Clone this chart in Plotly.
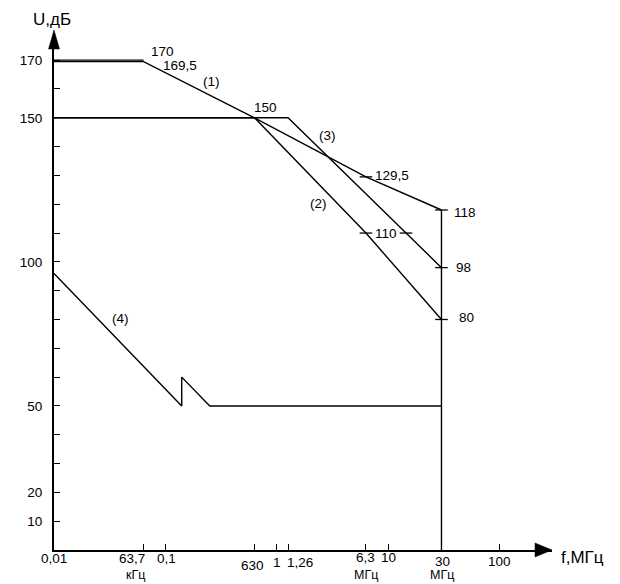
import numpy as np
import plotly.graph_objects as go

# ---- data (frequency in MHz, level in dB) ----
line1_f = [0.01, 0.0637, 0.63, 6.3, 30]
line1_u = [169.5, 169.5, 150, 129.5, 118]
line1_top_f = [0.01, 0.0637]
line1_top_u = [170, 170]
line2_f = [0.01, 0.63, 6.3, 30]
line2_u = [150, 150, 110, 80]
line3_f = [0.01, 1.26, 30]
line3_u = [150, 150, 98]
line4_f = [0.01, 0.14, 0.14, 0.25, 30]
line4_u = [96, 50, 60, 50, 50]
edge_f = [30, 30]
edge_u = [0, 118]

mark_f = [6.3, 6.3, 14.4, 30, 30, 30]
mark_u = [129.5, 110, 110, 118, 98, 80]

x_tick_vals = [0.01, 0.0637, 0.1, 0.63, 1, 1.26, 6.3, 10, 30, 100]
x_tick_text = ["0,01", "63,7", "0,1", "630", "1", "1,26", "6,3", "10", "30", "100"]
x_tick_unit = ["", "кГц", "", "", "", "", "МГц", "", "МГц", ""]
y_tick_vals = list(range(10, 180, 10))
y_tick_labelled = [170, 150, 100, 50, 20, 10]

FONT = "Liberation Sans, Arial, sans-serif"
BLACK = "#000000"
FS = 13.5

fig = go.Figure()

def add_line(f, u):
    fig.add_trace(go.Scatter(x=f, y=u, mode="lines",
                             line=dict(color=BLACK, width=1.4),
                             showlegend=False, hoverinfo="skip"))

for f, u in [(line1_top_f, line1_top_u), (line1_f, line1_u), (line2_f, line2_u),
             (line3_f, line3_u), (line4_f, line4_u), (edge_f, edge_u)]:
    add_line(f, u)

fig.add_trace(go.Scatter(x=mark_f, y=mark_u, mode="markers",
                         marker=dict(symbol="line-ew", size=9,
                                     line=dict(color=BLACK, width=1.3)),
                         showlegend=False, hoverinfo="skip", cliponaxis=False))

annotations = []

# x tick labels: (xanchor, xshift, yshift of number)
x_label_style = {
    "0,01": ("center", 0, -8),
    "63,7": ("right", 3, -8),
    "0,1": ("center", 1, -8),
    "630": ("center", -2, -15),
    "1": ("center", 0, -12),
    "1,26": ("left", -3, -12),
    "6,3": ("center", 0, -7),
    "10": ("center", 0, -7),
    "30": ("center", 1, -11),
    "100": ("center", 0, -11),
}
for v, t, unit in zip(x_tick_vals, x_tick_text, x_tick_unit):
    xa, xs, ys = x_label_style[t]
    annotations.append(dict(x=np.log10(v), y=0, xref="x", yref="y", text=t,
                            showarrow=False, xanchor=xa, yanchor="middle",
                            xshift=xs, yshift=ys,
                            font=dict(family=FONT, size=FS, color=BLACK)))
    if unit:
        annotations.append(dict(x=np.log10(v), y=0, xref="x", yref="y", text=unit,
                                showarrow=False, xanchor=xa, yanchor="middle",
                                xshift=xs, yshift=-25,
                                font=dict(family=FONT, size=12.5, color=BLACK)))

# curve labels
curve_labels = [
    ("170", 0.0637, 170, "left", 5, 9),
    ("169,5", 0.0637, 169.5, "left", 17, -4),
    ("(1)", 0.26, 157.6, "center", 0, 14),
    ("150", 0.63, 150, "left", -3, 10),
    ("(3)", 1.86, 143.7, "left", 10, 0),
    ("(2)", 3.53, 120.1, "right", -9, 0),
    ("129,5", 6.3, 129.5, "left", 7, 1),
    ("110", 6.3, 110, "left", 7, 0),
    ("118", 30, 118, "left", 11, -2),
    ("98", 30, 98, "left", 13, 0),
    ("80", 30, 80, "left", 16, 2),
    ("(4)", 0.0243, 80.5, "center", 24, 0),
]
for t, f, u, xa, xs, ys in curve_labels:
    annotations.append(dict(x=np.log10(f), y=u, xref="x", yref="y", text=t,
                            showarrow=False, xanchor=xa, yanchor="middle",
                            xshift=xs, yshift=ys,
                            font=dict(family=FONT, size=FS, color=BLACK)))

# axis titles
annotations.append(dict(x=0, y=1, xref="paper", yref="paper", text="U,дБ",
                        showarrow=False, xanchor="left", yanchor="middle",
                        xshift=-23, yshift=21,
                        font=dict(family=FONT, size=17, color=BLACK)))
annotations.append(dict(x=1, y=0, xref="paper", yref="paper", text="f,МГц",
                        showarrow=False, xanchor="left", yanchor="middle",
                        xshift=7, yshift=-7,
                        font=dict(family=FONT, size=17, color=BLACK)))

# arrow heads on axes
shapes = [
    dict(type="path", xref="paper", yref="paper", xsizemode="pixel", ysizemode="pixel",
         xanchor=0, yanchor=1, path="M -5.5,-9 L 0,10 L 5.5,-9 Z",
         fillcolor=BLACK, line=dict(color=BLACK, width=0.5)),
    dict(type="path", xref="paper", yref="paper", xsizemode="pixel", ysizemode="pixel",
         xanchor=1, yanchor=0, path="M -17,-7 L 0,0 L -17,7 Z",
         fillcolor=BLACK, line=dict(color=BLACK, width=0.5)),
]

# page body has an 8px margin, so the figure is 8px smaller than the window
ML, MR, MT, MB = 39, 68, 32, 34
FIG_W, FIG_H = 612, 576
px_per_decade = 113
plot_w = FIG_W - ML - MR

fig.update_layout(
    width=FIG_W, height=FIG_H,
    margin=dict(l=ML, r=MR, t=MT, b=MB),
    paper_bgcolor="white", plot_bgcolor="white",
    annotations=annotations, shapes=shapes,
    showlegend=False,
    xaxis=dict(type="log", range=[-2, -2 + plot_w / px_per_decade],
               showline=True, linecolor=BLACK, linewidth=2,
               showgrid=False, zeroline=False,
               ticks="inside", ticklen=6, tickwidth=1.3, tickcolor=BLACK,
               tickvals=x_tick_vals[1:], showticklabels=False),
    yaxis=dict(range=[0, 177],
               showline=True, linecolor=BLACK, linewidth=2,
               showgrid=False, zeroline=False,
               ticks="inside", ticklen=6, tickwidth=1.3, tickcolor=BLACK,
               tickvals=y_tick_vals,
               ticktext=[str(v) if v in y_tick_labelled else "" for v in y_tick_vals],
               tickfont=dict(family=FONT, size=FS, color=BLACK),
               ticklabelstandoff=7),
)

fig.write_html("out.html")
